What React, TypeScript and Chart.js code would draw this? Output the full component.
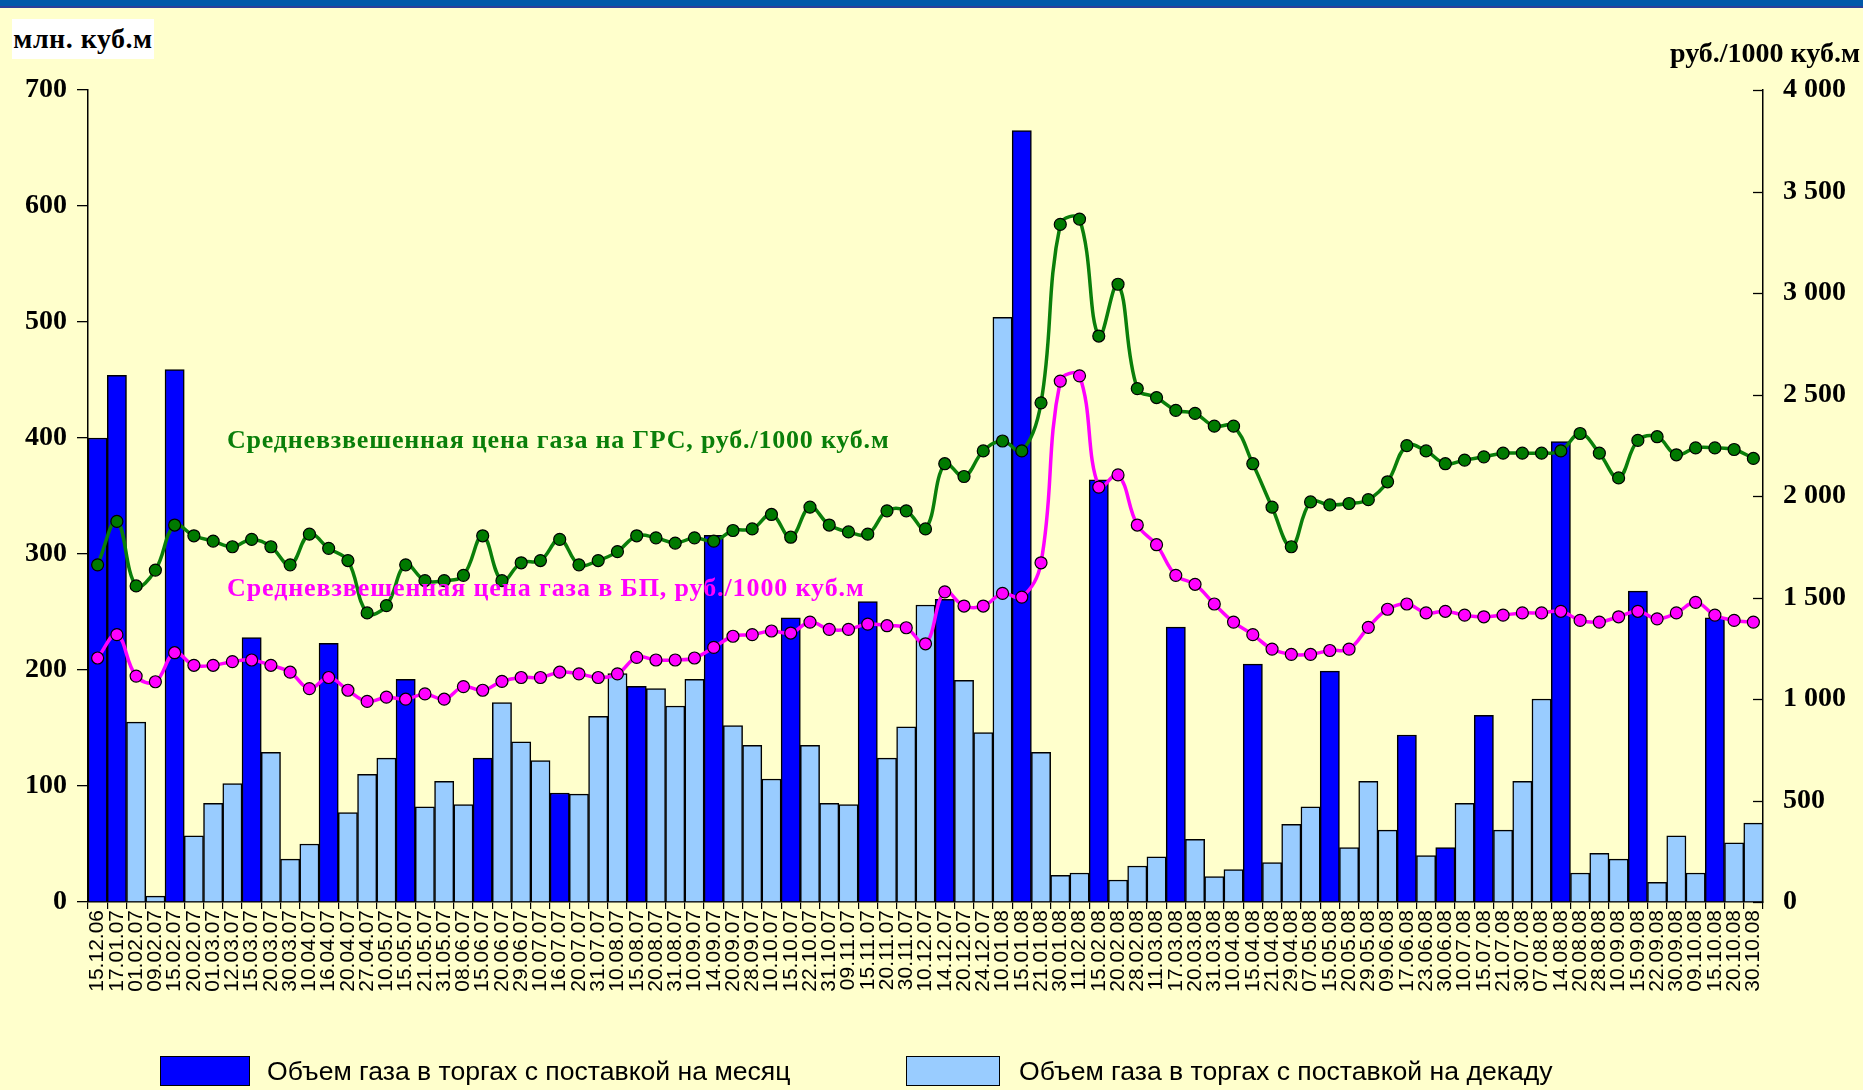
import React, { useEffect, useRef } from "react";
import { Chart, registerables } from "chart.js";

Chart.register(...registerables);

const categories = [
  "15.12.06", "17.01.07", "01.02.07", "09.02.07", "15.02.07", "20.02.07", "01.03.07", "12.03.07",
  "15.03.07", "20.03.07", "30.03.07", "10.04.07", "16.04.07", "20.04.07", "27.04.07", "10.05.07",
  "15.05.07", "21.05.07", "31.05.07", "08.06.07", "15.06.07", "20.06.07", "29.06.07", "10.07.07",
  "16.07.07", "20.07.07", "31.07.07", "10.08.07", "15.08.07", "20.08.07", "31.08.07", "10.09.07",
  "14.09.07", "20.09.07", "28.09.07", "10.10.07", "15.10.07", "22.10.07", "31.10.07", "09.11.07",
  "15.11.07", "20.11.07", "30.11.07", "10.12.07", "14.12.07", "20.12.07", "24.12.07", "10.01.08",
  "15.01.08", "21.01.08", "30.01.08", "11.02.08", "15.02.08", "20.02.08", "28.02.08", "11.03.08",
  "17.03.08", "20.03.08", "31.03.08", "10.04.08", "15.04.08", "21.04.08", "29.04.08", "07.05.08",
  "15.05.08", "20.05.08", "29.05.08", "09.06.08", "17.06.08", "23.06.08", "30.06.08", "10.07.08",
  "15.07.08", "21.07.08", "30.07.08", "07.08.08", "14.08.08", "20.08.08", "28.08.08", "10.09.08",
  "15.09.08", "22.09.08", "30.09.08", "09.10.08", "15.10.08", "20.10.08", "30.10.08",
];

// Volume traded with delivery for a month (mln m3)
const monthVolume: (number | null)[] = [
  400, 454, null, null, 459, null, null, null, 228, null, null, null, 223, null, null, null,
  192, null, null, null, 124, null, null, null, 94, null, null, null, 186, null, null, null,
  316, null, null, null, 245, null, null, null, 259, null, null, null, 261, null, null, null,
  665, null, null, null, 364, null, null, null, 237, null, null, null, 205, null, null, null,
  199, null, null, null, 144, null, 47, null, 161, null, null, null, 397, null, null, null,
  268, null, null, null, 245, null, null,
];

// Volume traded with delivery for a decade (mln m3)
const decadeVolume: (number | null)[] = [
  null, null, 155, 5, null, 57, 85, 102, null, 129, 37, 50, null, 77, 110, 124,
  null, 82, 104, 84, null, 172, 138, 122, null, 93, 160, 197, null, 184, 169, 192,
  null, 152, 135, 106, null, 135, 85, 84, null, 124, 151, 256, null, 191, 146, 504,
  null, 129, 23, 25, null, 19, 31, 39, null, 54, 22, 28, null, 34, 67, 82,
  null, 47, 104, 62, null, 40, null, 85, null, 62, 104, 175, null, 25, 42, 37,
  null, 17, 57, 25, null, 51, 68,
];

// Weighted average price at GRS (rub / 1000 m3)
const priceGRS = [
  1661, 1875, 1557, 1635, 1857, 1804, 1778, 1750, 1786, 1750, 1661, 1812, 1742, 1682, 1424, 1460,
  1661, 1583, 1583, 1609, 1804, 1583, 1671, 1682, 1786, 1661, 1682, 1726, 1804, 1794, 1768, 1794,
  1778, 1830, 1838, 1909, 1797, 1945, 1857, 1823, 1812, 1927, 1927, 1838, 2159, 2096, 2222, 2271,
  2222, 2459, 3338, 3364, 2788, 3043, 2529, 2485, 2422, 2407, 2344, 2344, 2159, 1945, 1750, 1971,
  1956, 1963, 1982, 2070, 2248, 2222, 2159, 2177, 2193, 2211, 2211, 2211, 2222, 2308, 2211, 2089,
  2274, 2292, 2203, 2237, 2237, 2229, 2185,
];

// Weighted average price at BP (rub / 1000 m3)
const priceBP = [
  1202, 1317, 1113, 1085, 1228, 1166, 1166, 1184, 1192, 1166, 1132, 1051, 1106, 1043, 988, 1009,
  999, 1025, 999, 1061, 1043, 1087, 1106, 1106, 1132, 1124, 1106, 1124, 1205, 1192, 1192, 1202,
  1254, 1309, 1317, 1335, 1325, 1379, 1343, 1343, 1369, 1361, 1351, 1272, 1528, 1458, 1458, 1520,
  1502, 1671, 2566, 2592, 2044, 2104, 1857, 1760, 1609, 1565, 1468, 1379, 1317, 1246, 1220, 1220,
  1239, 1246, 1353, 1442, 1468, 1424, 1432, 1413, 1405, 1413, 1424, 1424, 1432, 1387, 1379, 1405,
  1432, 1395, 1424, 1476, 1413, 1387, 1379,
];

const leftAxis = { min: 0, max: 700, step: 100 };
const rightAxis = { min: 0, max: 4000, step: 500 };

const labelMonth = "Объем газа в торгах с поставкой на месяц";
const labelDecade = "Объем газа в торгах с поставкой на декаду";
const labelGRS = "Средневзвешенная цена газа на ГРС, руб./1000 куб.м";
const labelBP = "Средневзвешенная цена газа в БП, руб./1000 куб.м";
const leftTitle = "млн. куб.м";
const rightTitle = "руб./1000 куб.м";

const SERIF = "'Liberation Serif', 'Times New Roman', serif";
const SANS = "'Liberation Sans', Arial, sans-serif";

const COLOR_MONTH = "#0000FF";
const COLOR_DECADE = "#99CCFF";
const COLOR_GRS = "#0A7F0A";
const COLOR_GRS_POINT = "#007A00";
const COLOR_BP = "#FF00FF";

function fmtThousands(v: number) {
  const n = Math.round(v);
  if (n >= 1000) {
    return `${Math.floor(n / 1000)} ${String(n % 1000).padStart(3, "0")}`;
  }
  return String(n);
}

const innerTicks = {
  id: "innerTicks",
  afterDraw(chart: any) {
    const s = chart.scales.y1;
    if (!s) return;
    const ctx = chart.ctx;
    ctx.save();
    ctx.strokeStyle = "#000";
    ctx.lineWidth = 1.3;
    s.ticks.forEach((_t: any, i: number) => {
      const y = Math.round(s.getPixelForTick(i)) + 0.5;
      ctx.beginPath();
      ctx.moveTo(s.left - 10, y);
      ctx.lineTo(s.left, y);
      ctx.stroke();
    });
    ctx.restore();
  },
};

export default function App() {
  const ref = useRef<HTMLCanvasElement>(null);

  useEffect(() => {
    if (!ref.current) return;
    const chart = new Chart(ref.current, {
      type: "bar",
      data: {
        labels: categories,
        datasets: [
          {
            type: "line",
            label: labelGRS,
            data: priceGRS,
            yAxisID: "y1",
            borderColor: COLOR_GRS,
            borderWidth: 3.5,
            tension: 0.4,
            pointRadius: 6,
            pointBackgroundColor: COLOR_GRS_POINT,
            pointBorderColor: "#000",
            pointBorderWidth: 1.2,
            order: 0,
          } as any,
          {
            type: "line",
            label: labelBP,
            data: priceBP,
            yAxisID: "y1",
            borderColor: COLOR_BP,
            borderWidth: 3.5,
            tension: 0.4,
            pointRadius: 6,
            pointBackgroundColor: COLOR_BP,
            pointBorderColor: "#000",
            pointBorderWidth: 1.2,
            order: 1,
          } as any,
          {
            type: "bar",
            label: labelMonth,
            data: monthVolume,
            yAxisID: "y",
            backgroundColor: COLOR_MONTH,
            borderColor: "#000",
            borderWidth: 1.5,
            grouped: false,
            barPercentage: 1,
            categoryPercentage: 1,
            order: 3,
          } as any,
          {
            type: "bar",
            label: labelDecade,
            data: decadeVolume,
            yAxisID: "y",
            backgroundColor: COLOR_DECADE,
            borderColor: "#000",
            borderWidth: 1.5,
            grouped: false,
            barPercentage: 1,
            categoryPercentage: 1,
            order: 2,
          } as any,
        ],
      },
      options: {
        responsive: false,
        devicePixelRatio: 1,
        animation: false,
        layout: { padding: { left: 0, right: 0, top: 90, bottom: 78 } },
        plugins: {
          legend: { display: false },
          tooltip: { enabled: false },
        },
        scales: {
          x: {
            offset: true,
            grid: {
              offset: true,
              drawOnChartArea: false,
              drawTicks: true,
              tickLength: 7,
              color: "#000",
              tickColor: "#000",
              lineWidth: 1.2,
            },
            border: { color: "#000", width: 1.5 },
            ticks: {
              autoSkip: false,
              maxRotation: 90,
              minRotation: 90,
              padding: 1,
              color: "#000",
              font: { family: SANS, size: 21 },
            },
            afterFit: (s: any) => {
              s.height = 110;
            },
          },
          y: {
            position: "left",
            min: leftAxis.min,
            max: leftAxis.max,
            ticks: {
              stepSize: leftAxis.step,
              padding: 10,
              color: "#000",
              font: { family: SERIF, size: 28, weight: "bold" },
            },
            grid: {
              drawOnChartArea: false,
              tickLength: 11,
              color: "#000",
              tickColor: "#000",
              lineWidth: 1.3,
            },
            border: { color: "#000", width: 1.5 },
            afterFit: (s: any) => {
              s.width = 88;
            },
          },
          y1: {
            position: "right",
            min: rightAxis.min,
            max: rightAxis.max,
            ticks: {
              stepSize: rightAxis.step,
              padding: 20,
              color: "#000",
              font: { family: SERIF, size: 28, weight: "bold" },
              callback: (v: any) => fmtThousands(Number(v)),
            },
            grid: { drawOnChartArea: false, drawTicks: false },
            border: { color: "#000", width: 1.5 },
            afterFit: (s: any) => {
              s.width = 100;
            },
          },
        },
      } as any,
      plugins: [innerTicks],
    });
    return () => chart.destroy();
  }, []);

  const legendText: React.CSSProperties = {
    position: "absolute",
    top: 1053,
    height: 36,
    lineHeight: "36px",
    fontFamily: SANS,
    fontSize: 26.6,
    color: "#000",
    whiteSpace: "nowrap",
  };
  const legendBox: React.CSSProperties = {
    position: "absolute",
    top: 1056,
    width: 90,
    height: 30,
    boxSizing: "border-box",
    border: "1.5px solid #000",
  };

  return (
    <div
      style={{
        position: "fixed",
        left: 0,
        top: 0,
        width: 1863,
        height: 1090,
        background: "#FFFFCC",
        overflow: "hidden",
      }}
    >
      <div style={{ position: "absolute", left: 0, top: 0, width: 1863, height: 6, background: "#0059A9" }} />
      <div style={{ position: "absolute", left: 0, top: 6, width: 1863, height: 1.5, background: "#2B3F9A" }} />
      <canvas
        ref={ref}
        width={1863}
        height={1090}
        style={{ position: "absolute", left: 0, top: 0, width: 1863, height: 1090 }}
      />
      <div
        style={{
          position: "absolute",
          left: 12,
          top: 19,
          width: 142,
          height: 40,
          background: "#FFFFFF",
          fontFamily: SERIF,
          fontWeight: "bold",
          fontSize: 28,
          lineHeight: "40px",
          textAlign: "center",
          letterSpacing: 0.5,
          whiteSpace: "nowrap",
          color: "#000",
        }}
      >
        {leftTitle}
      </div>
      <div
        style={{
          position: "absolute",
          right: 3,
          top: 33,
          height: 40,
          lineHeight: "40px",
          fontFamily: SERIF,
          fontWeight: "bold",
          fontSize: 28,
          whiteSpace: "nowrap",
          color: "#000",
        }}
      >
        {rightTitle}
      </div>
      <div
        style={{
          position: "absolute",
          left: 227,
          top: 420,
          height: 40,
          lineHeight: "40px",
          fontFamily: SERIF,
          fontWeight: "bold",
          fontSize: 26,
          letterSpacing: 0.8,
          whiteSpace: "nowrap",
          color: COLOR_GRS,
        }}
      >
        {labelGRS}
      </div>
      <div
        style={{
          position: "absolute",
          left: 227,
          top: 568,
          height: 40,
          lineHeight: "40px",
          fontFamily: SERIF,
          fontWeight: "bold",
          fontSize: 26,
          letterSpacing: 0.9,
          whiteSpace: "nowrap",
          color: COLOR_BP,
        }}
      >
        {labelBP}
      </div>
      <div style={{ ...legendBox, left: 160, background: COLOR_MONTH }} />
      <div style={{ ...legendText, left: 267 }}>{labelMonth}</div>
      <div style={{ ...legendBox, left: 906, width: 94, background: COLOR_DECADE }} />
      <div style={{ ...legendText, left: 1019 }}>{labelDecade}</div>
    </div>
  );
}
